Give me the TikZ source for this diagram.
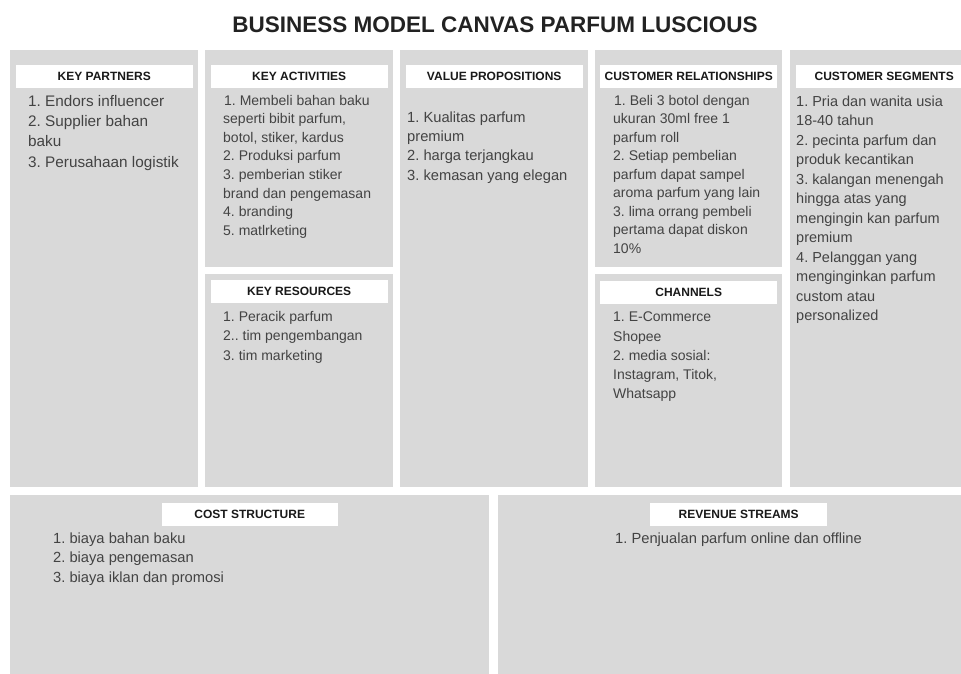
\documentclass[tikz,border=0pt]{standalone}
\usepackage{fontspec}
\setmainfont{Liberation Sans}
\usetikzlibrary{positioning}
\frenchspacing
\definecolor{panelgray}{HTML}{D9D9D9}
\definecolor{bodygray}{HTML}{434343}
\definecolor{titleblack}{HTML}{222222}
\tikzset{
  panel/.style = {rectangle, fill=panelgray, draw=none, anchor=north west, inner sep=0pt},
  header/.style = {rectangle, fill=white, draw=none, minimum width=177pt, minimum height=23pt, inner sep=0pt, font=\fontsize{12}{14}\selectfont\bfseries, text=black!90},
  bodytext/.style = {anchor=north west, align=left, inner sep=0pt, text=bodygray}
}

\begin{document}
\begin{tikzpicture}[x=1pt, y=-1pt]

  \clip (0,0) rectangle (961,673);
  \fill[white] (0,0) rectangle (961,673);

  % Title
  \node (title) [anchor=base, font=\fontsize{22.5}{24}\selectfont\bfseries, text=titleblack] at (495,32) {BUSINESS MODEL CANVAS PARFUM LUSCIOUS};

  % Top row panels
  \node (kp) [panel, minimum width=188pt, minimum height=437pt] at (10,50) {};
  \node (ka) [panel, minimum width=188pt, minimum height=217pt] at (205,50) {};
  \node (kr) [panel, minimum width=188pt, minimum height=213pt] at (205,274) {};
  \node (vp) [panel, minimum width=188pt, minimum height=437pt] at (400,50) {};
  \node (cr) [panel, minimum width=187pt, minimum height=217pt] at (595,50) {};
  \node (ch) [panel, minimum width=187pt, minimum height=213pt] at (595,274) {};
  \node (cs) [panel, minimum width=188pt, minimum height=437pt] at (790,50) {};

  % Bottom row panels
  \node (cost) [panel, minimum width=479pt, minimum height=190pt] at (10,495) {};
  \node (rev) [panel, minimum width=481pt, minimum height=190pt] at (498,495) {};

  % Headers
  \node (kphead) [header, below=15pt of kp.north] {KEY PARTNERS};
  \node (kahead) [header, below=15pt of ka.north] {KEY ACTIVITIES};
  \node (krhead) [header, below=6pt of kr.north] {KEY RESOURCES};
  \node (vphead) [header, below=15pt of vp.north] {VALUE PROPOSITIONS};
  \node (crhead) [header, below=15pt of cr.north] {CUSTOMER RELATIONSHIPS};
  \node (chhead) [header, below=6.5pt of ch.north] {CHANNELS};
  \node (cshead) [header, below=15pt of cs.north] {CUSTOMER SEGMENTS};
  \node (costhead) [header, minimum width=176pt, below=8pt of cost.north] {COST STRUCTURE};
  \node (revhead) [header, below=8pt of rev.north] {REVENUE STREAMS};

  % Contents
  \node (kptext) [bodytext, font=\fontsize{15.3}{20.4}\selectfont] at (28,94.8) {1. Endors influencer\\2. Supplier bahan\\baku\\3. Perusahaan logistik};
  \node (katext) [bodytext, font=\fontsize{14}{18.6}\selectfont] at (223,94.8) {\hspace{1pt}1. Membeli bahan baku\\seperti bibit parfum,\\botol, stiker, kardus\\2. Produksi parfum\\3. pemberian stiker\\brand dan pengemasan\\4. branding\\5. matlrketing};
  \node (krtext) [bodytext, font=\fontsize{14}{19.5}\selectfont] at (223,310.8) {1. Peracik parfum\\2.. tim pengembangan\\3. tim marketing};
  \node (vptext) [bodytext, font=\fontsize{14.7}{19.3}\selectfont] at (407,111.3) {1. Kualitas parfum\\premium\\2. harga terjangkau\\3. kemasan yang elegan};
  \node (crtext) [bodytext, font=\fontsize{14}{18.5}\selectfont] at (613,94.8) {\hspace{1pt}1. Beli 3 botol dengan\\ukuran 30ml free 1\\parfum roll\\2. Setiap pembelian\\parfum dapat sampel\\aroma parfum yang lain\\3. lima orrang pembeli\\pertama dapat diskon\\10\%};
  \node (chtext) [bodytext, font=\fontsize{14}{19.3}\selectfont] at (613,311.8) {1. E-Commerce\\Shopee\\2. media sosial:\\Instagram, Titok,\\Whatsapp};
  \node (cstext) [bodytext, font=\fontsize{14.5}{19.5}\selectfont] at (796,95.4) {1. Pria dan wanita usia\\18-40 tahun\\2. pecinta parfum dan\\produk kecantikan\\3. kalangan menengah\\hingga atas yang\\mengingin kan parfum\\premium\\4. Pelanggan yang\\menginginkan parfum\\custom atau\\personalized};
  \node (costtext) [bodytext, font=\fontsize{14.7}{19.5}\selectfont] at (53,532.3) {1. biaya bahan baku\\2. biaya pengemasan\\3. biaya iklan dan promosi};
  \node (revtext) [bodytext, anchor=base, font=\fontsize{14.7}{19.5}\selectfont] at (738.5,543) {1. Penjualan parfum online dan offline};

\end{tikzpicture}
\end{document}
